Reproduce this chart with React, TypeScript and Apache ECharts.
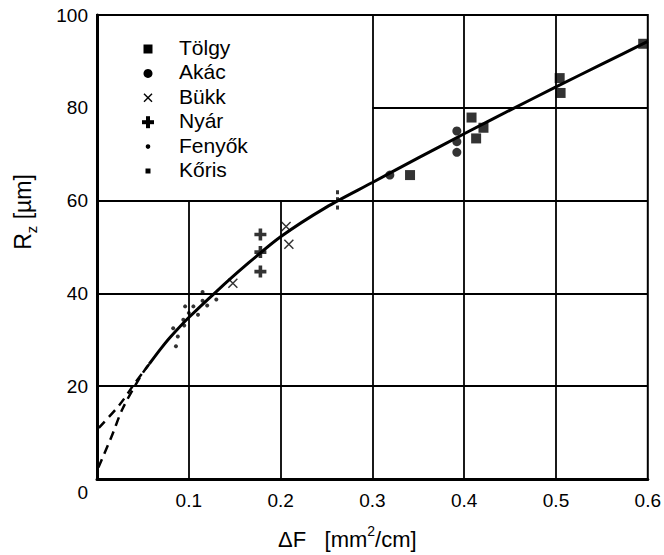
import React, { useEffect, useRef } from "react";
import * as echarts from "echarts";

const FONT = "'Liberation Sans', Arial, Helvetica, sans-serif";

// Tick values
const xTicks = [0, 0.1, 0.2, 0.3, 0.4, 0.5, 0.6];
const yTicks = [0, 20, 40, 60, 80, 100];

// Fitted curve (solid)
const curveF = [0.057, 0.07, 0.08, 0.1, 0.13, 0.16, 0.2, 0.25, 0.3, 0.35, 0.4, 0.45, 0.5, 0.55, 0.6];
const curveRz = [24.8, 28.2, 30.6, 34.8, 40.4, 45.7, 52.2, 58.6, 63.9, 69.2, 74.4, 79.5, 84.5, 89.4, 94.3];

// Extrapolated curves (dashed)
const dashUpF = [0.002, 0.025, 0.041, 0.057];
const dashUpRz = [11, 16.1, 20.6, 24.8];
const dashLowF = [0.0015, 0.016, 0.028, 0.048, 0.057];
const dashLowRz = [2.5, 9.2, 15.2, 22.3, 24.8];

// Measured points
const tolgyF = [0.341, 0.408, 0.421, 0.413, 0.504, 0.505, 0.595];
const tolgyRz = [65.5, 77.9, 75.7, 73.4, 86.4, 83.2, 93.8];
const akacF = [0.319, 0.392, 0.392, 0.392];
const akacRz = [65.5, 75, 72.7, 70.4];
const bukkF = [0.148, 0.206, 0.209];
const bukkRz = [42.2, 54.4, 50.6];
const nyarF = [0.178, 0.178, 0.178];
const nyarRz = [52.7, 48.9, 44.7];
const fenyokF = [0.115, 0.096, 0.105, 0.115, 0.12, 0.13, 0.11, 0.1, 0.094, 0.095, 0.083, 0.088, 0.086];
const fenyokRz = [40.3, 37.2, 37.2, 38.4, 37.4, 38.7, 35.4, 35.8, 34.3, 33.1, 32.5, 30.7, 28.6];
const korisF = [0.262, 0.262, 0.262];
const korisRz = [61.8, 60.3, 58.5];

// Grid lines (partial, the legend sits in the upper-left)
const vGridX = [0.1, 0.2, 0.3, 0.4, 0.5];
const vGridTop = [60, 60, 100, 100, 100];
const hGridY = [20, 40, 60, 80];
const hGridStart = [0, 0, 0, 0.3];

const legendNames = ["Tölgy", "Akác", "Bükk", "Nyár", "Fenyők", "Kőris"];

const zip = (a: number[], b: number[]) => a.map((v, i) => [v, b[i]]);

const CROSS = "path://M0 0L10 10M10 0L0 10";
const PLUS = "path://M3.5 0H6.5V3.5H10V6.5H6.5V10H3.5V6.5H0V3.5H3.5Z";

export default function App() {
  const ref = useRef<HTMLDivElement>(null);
  useEffect(() => {
    if (!ref.current) return;
    const chart = echarts.init(ref.current, undefined, { renderer: "svg" });

    const gridLines: any[] = [];
    vGridX.forEach((x, i) => gridLines.push([{ coord: [x, 0] }, { coord: [x, vGridTop[i]] }]));
    hGridY.forEach((y, i) => gridLines.push([{ coord: [hGridStart[i], y] }, { coord: [0.6, y] }]));

    // Legend drawn by hand
    const lx = 148;
    const ly0 = 49;
    const dy = 24.4;
    const legendGraphics: any[] = [];
    legendNames.forEach((n, i) => {
      const cy = ly0 + i * dy;
      legendGraphics.push({
        type: "text",
        left: 179,
        top: cy - 12,
        style: { text: n, font: `21px ${FONT}`, fill: "#000" },
      });
      if (i === 0) legendGraphics.push({ type: "rect", shape: { x: lx - 4.5, y: cy - 4.5, width: 9, height: 9 }, style: { fill: "#000" } });
      if (i === 1) legendGraphics.push({ type: "circle", shape: { cx: lx, cy, r: 4.5 }, style: { fill: "#000" } });
      if (i === 2) {
        legendGraphics.push({ type: "line", shape: { x1: lx - 4, y1: cy - 4, x2: lx + 4, y2: cy + 4 }, style: { stroke: "#000", lineWidth: 1.5 } });
        legendGraphics.push({ type: "line", shape: { x1: lx + 4, y1: cy - 4, x2: lx - 4, y2: cy + 4 }, style: { stroke: "#000", lineWidth: 1.5 } });
      }
      if (i === 3) {
        legendGraphics.push({ type: "rect", shape: { x: lx - 6, y: cy - 2, width: 12, height: 4 }, style: { fill: "#000" } });
        legendGraphics.push({ type: "rect", shape: { x: lx - 2, y: cy - 6, width: 4, height: 12 }, style: { fill: "#000" } });
      }
      if (i === 4) legendGraphics.push({ type: "circle", shape: { cx: lx, cy, r: 2.3 }, style: { fill: "#000" } });
      if (i === 5) legendGraphics.push({ type: "rect", shape: { x: lx - 2.5, y: cy - 2.5, width: 5, height: 5 }, style: { fill: "#000" } });
    });

    const scatterBase = { type: "scatter", itemStyle: { color: "#000" }, z: 5 };

    chart.setOption({
      animation: false,
      backgroundColor: "#fff",
      textStyle: { fontFamily: FONT },
      grid: { left: 97, right: 11, top: 15, bottom: 70, show: true, borderColor: "#000", borderWidth: 2, backgroundColor: "transparent" },
      xAxis: {
        type: "value",
        min: xTicks[0],
        max: xTicks[xTicks.length - 1],
        interval: 0.1,
        axisLine: { show: true, onZero: false, lineStyle: { color: "#000", width: 3 } },
        axisTick: { show: false },
        splitLine: { show: false },
        axisLabel: {
          color: "#000",
          fontSize: 19,
          fontFamily: FONT,
          margin: 12,
          showMinLabel: false,
          formatter: (v: number) => (xTicks.some((t) => Math.abs(t - v) < 1e-9) ? v.toFixed(1) : ""),
        },
        name: "{a|ΔF   [mm}{s|2}{a|/cm]}",
        nameLocation: "middle",
        nameGap: 45,
        nameTextStyle: {
          padding: [0, 50, 0, 0],
          rich: {
            a: { fontSize: 22, fontFamily: FONT, color: "#000", lineHeight: 26, verticalAlign: "bottom" },
            s: { fontSize: 14, fontFamily: FONT, color: "#000", lineHeight: 26, verticalAlign: "top" },
          },
        },
      },
      yAxis: {
        type: "value",
        min: yTicks[0],
        max: yTicks[yTicks.length - 1],
        interval: 20,
        axisLine: { show: true, lineStyle: { color: "#000", width: 3 } },
        axisTick: { show: false },
        splitLine: { show: false },
        axisLabel: {
          color: "#000",
          fontSize: 19,
          fontFamily: FONT,
          margin: 9,
          formatter: (v: number) => (v === 0 ? "{z|0}" : String(v)),
          rich: { z: { fontSize: 19, fontFamily: FONT, color: "#000", lineHeight: 19, padding: [26, 0, 0, 0] } },
        },
        name: "{a|R}{s|z}{a| [µm]}",
        nameLocation: "middle",
        nameGap: 58,
        nameRotate: 90,
        nameTextStyle: {
          padding: [0, 0, 0, 70],
          rich: {
            a: { fontSize: 23, fontFamily: FONT, color: "#000", lineHeight: 28, verticalAlign: "top" },
            s: { fontSize: 15, fontFamily: FONT, color: "#000", lineHeight: 28, verticalAlign: "bottom" },
          },
        },
      },
      graphic: legendGraphics,
      series: [
        {
          name: "curve",
          type: "line",
          data: zip(curveF, curveRz),
          smooth: 0.3,
          symbol: "none",
          lineStyle: { color: "#000", width: 3 },
          z: 4,
          markLine: {
            silent: true,
            symbol: ["none", "none"],
            label: { show: false },
            lineStyle: { color: "#000", width: 1.8, type: "solid" },
            data: gridLines,
          },
        },
        {
          name: "dashUp",
          type: "line",
          data: zip(dashUpF, dashUpRz),
          smooth: 0.3,
          symbol: "none",
          lineStyle: { color: "#000", width: 2.5, type: [9, 6] },
          z: 4,
        },
        {
          name: "dashLow",
          type: "line",
          data: zip(dashLowF, dashLowRz),
          smooth: 0.3,
          symbol: "none",
          lineStyle: { color: "#000", width: 2.5, type: [9, 6] },
          z: 4,
        },
        { ...scatterBase, name: legendNames[0], data: zip(tolgyF, tolgyRz), symbol: "rect", symbolSize: 10 },
        { ...scatterBase, name: legendNames[1], data: zip(akacF, akacRz), symbol: "circle", symbolSize: 9 },
        {
          ...scatterBase,
          name: legendNames[2],
          data: zip(bukkF, bukkRz),
          symbol: CROSS,
          symbolSize: 9,
          itemStyle: { color: "none", borderColor: "#000", borderWidth: 1.5 },
        },
        { ...scatterBase, name: legendNames[3], data: zip(nyarF, nyarRz), symbol: PLUS, symbolSize: 12 },
        { ...scatterBase, name: legendNames[4], data: zip(fenyokF, fenyokRz), symbol: "circle", symbolSize: 4 },
        { ...scatterBase, name: legendNames[5], data: zip(korisF, korisRz), symbol: "rect", symbolSize: [3, 4] },
      ],
    });
    return () => chart.dispose();
  }, []);
  return <div ref={ref} style={{ position: "fixed", left: 0, top: 0, width: 664, height: 555 }} />;
}
